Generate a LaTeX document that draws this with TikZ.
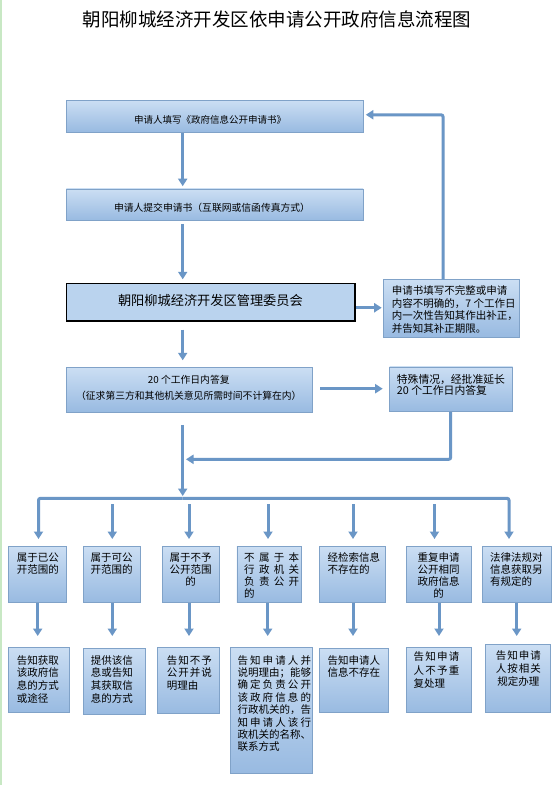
\documentclass[tikz,border=0pt]{standalone}
\usepackage{fontspec}
\setmainfont{Noto Sans CJK SC}
\usetikzlibrary{arrows.meta}
\definecolor{bxtop}{RGB}{203,222,243}
\definecolor{bxbot}{RGB}{152,186,225}
\definecolor{bxborder}{RGB}{128,162,200}
\definecolor{bxflat}{RGB}{186,211,238}
\definecolor{arrc}{RGB}{106,150,198}
\definecolor{edgegreen}{RGB}{200,232,196}
\newcommand\mkbox[6][bx]{\node[#1, minimum width={(#5-#3)*1pt}, minimum height={(#6-#4)*1pt}] (#2) at (#3,#4) {};}
\newcommand\jl[2]{\makebox[#1pt][s]{#2}}
\begin{document}
\begin{tikzpicture}[x=1pt,y=-1pt,
  bx/.style={draw=bxborder, line width=0.8pt, top color=bxtop, bottom color=bxbot, inner sep=0pt, anchor=north west},
  hbx/.style={draw=black, line width=1pt, fill=bxflat, inner sep=0pt, anchor=north west},
  arr/.style={draw=arrc, line width=3pt, -{Triangle[width=9pt,length=7.5pt]}, rounded corners=2pt},
  ctext/.style={inner sep=0pt},
  tx/.style={inner sep=0pt, anchor=north west, align=left, font=\fontsize{10.5}{12}\selectfont},
  btx/.style={tx, font=\fontsize{10.5}{12.7}\selectfont},
  ttl/.style={inner sep=0pt, font=\fontsize{18.5}{21}\selectfont}]
\path[use as bounding box, fill=white] (0,0) rectangle (554,785);
\draw[edgegreen, line width=1.6pt] (0.8,0) -- (0.8,785);

% main boxes
\mkbox{box1}{66}{100}{362.7}{131.7}
\mkbox{box2}{66}{188.5}{362.7}{220}
\mkbox[hbx]{box3}{66}{283.3}{354}{320}
\draw[black, line width=1.8pt] (box3.south west) -- (box3.south east) -- (box3.north east);
\mkbox{box4}{383.3}{279.3}{519.3}{336.5}
\mkbox{box5}{66}{367.3}{311.7}{411.7}
\mkbox{box6}{389.3}{366.5}{512.3}{411}

% top row
\mkbox{t1}{8}{546}{66}{602}
\mkbox{t2}{83}{546}{140}{602}
\mkbox{t3}{162}{546}{219}{602}
\mkbox{t4}{236.5}{546}{300.7}{602}
\mkbox{t5}{319}{546}{385}{602}
\mkbox{t6}{406.3}{546}{471.3}{602}
\mkbox{t7}{482.3}{546}{550.7}{602}

% bottom row
\mkbox{b1}{8.3}{646.7}{69.3}{712.3}
\mkbox{b2}{82.7}{648.3}{145}{714.3}
\mkbox{b3}{157.3}{646.7}{219.3}{713.3}
\mkbox{b4}{230}{647.3}{312}{773.3}
\mkbox{b5}{319}{648.3}{388}{712.3}
\mkbox{b6}{406.3}{646.7}{471.3}{712.3}
\mkbox{b7}{485}{644.3}{550}{712.3}

% helper coordinates
\coordinate (mx) at (182.7,0);
\coordinate (fx) at (443,0);
\coordinate (jx) at (450.7,0);
\coordinate (jn) at (182.7,459.3);
\coordinate (br) at (182.7,498.3);
\coordinate (u1) at (38.5,0);
\coordinate (u2) at (112.3,0);
\coordinate (u3) at (189,0);
\coordinate (u4) at (268,0);
\coordinate (u5) at (353,0);
\coordinate (u6) at (434.5,0);
\coordinate (u7) at (509,0);
\coordinate (d1) at (37.7,0);
\coordinate (d2) at (112.3,0);
\coordinate (d3) at (189,0);
\coordinate (d4) at (267.7,0);
\coordinate (d5) at (353,0);
\coordinate (d6) at (439,0);
\coordinate (d7) at (516.7,0);

% connectors
\draw[arr, shorten >=2.3pt] (box1.south -| mx) -- (box2.north -| mx);
\draw[arr, shorten <=3pt, shorten >=4pt] (box2.south -| mx) -- (box3.north -| mx);
\draw[arr, shorten <=8.5pt, shorten >=7pt] (box3.south -| mx) -- (box5.north -| mx);
\draw[arr, shorten <=1pt, shorten >=1.6pt] ([yshift=-5.6pt]box3.east) -- ([yshift=-5.6pt]box3.east -| box4.west);
\draw[arr, shorten >=2.3pt] (box4.north -| fx) |- ([yshift=1.5pt]box1.east);
\draw[arr, shorten <=7.6pt, shorten >=6.6pt] ([yshift=1.2pt]box5.east) -- ([yshift=1.2pt]box5.east -| box6.west);
\draw[arr, shorten >=3.3pt] (box6.south -| jx) |- (jn);
\draw[arr, shorten <=12.3pt, shorten >=2.3pt] (box5.south -| mx) -- (br);
\draw[arr, shorten >=7pt] (br) -| (t1.north -| u1);
\draw[arr, shorten >=7pt] (br) -| (t7.north -| u7);
\foreach \k in {2,...,6} \draw[arr, shorten <=5.7pt, shorten >=7pt] (br -| u\k) -- (t\k.north -| u\k);
\draw[arr, shorten >=10.7pt] (t1.south -| d1) -- (b1.north -| d1);
\draw[arr, shorten >=12.3pt] (t2.south -| d2) -- (b2.north -| d2);
\draw[arr, shorten >=10.7pt] (t3.south -| d3) -- (b3.north -| d3);
\draw[arr, shorten >=11.3pt] (t4.south -| d4) -- (b4.north -| d4);
\draw[arr, shorten >=12.3pt] (t5.south -| d5) -- (b5.north -| d5);
\draw[arr, shorten >=10.7pt] (t6.south -| d6) -- (b6.north -| d6);
\draw[arr, shorten >=8.3pt] (t7.south -| d7) -- (b7.north -| d7);

% texts
\node[ttl] (title) at (277,19) {朝阳柳城经济开发区依申请公开政府信息流程图};
\node[ctext, font=\fontsize{9.5}{11}\selectfont] (box1t) at (210,120) {申请人填写《政府信息公开申请书》};
\node[ctext, font=\fontsize{9.8}{11}\selectfont] (box2t) at (212,208) {申请人提交申请书（互联网或信函传真方式）};
\node[ctext, font=\fontsize{13.2}{15}\selectfont] (box3t) at (210.4,300.5) {朝阳柳城经济开发区管理委员会};
\node[ctext, align=center, font=\fontsize{9.8}{15.7}\selectfont] (box5t) at (188.8,388) {20 个工作日内答复\\（征求第三方和其他机关意见所需时间不计算在内）};
\node[tx, font=\fontsize{10.5}{12.4}\selectfont] (box4t) at (391.7,285.8) {申请书填写不完整或申请\\内容不明确的，7 个工作日\\内一次性告知其作出补正，\\并告知其补正期限。};
\node[tx, font=\fontsize{10.8}{11.7}\selectfont] (box6t) at (396.7,373.9) {特殊情况，经批准延长\\20 个工作日内答复};

\node[tx] (t1t) at (16.7,552.6) {属于已公\\开范围的};
\node[tx, align=center, anchor=north] (t2t) at (111.5,552.6) {属于可公\\开范围的};
\node[tx, align=center, anchor=north] (t3t) at (190.5,552.6) {属于不予\\公开范围\\的};
\node[tx] (t4t) at (244,552.6) {\jl{55}{不\hfil 属\hfil 于\hfil 本}\\\jl{55}{行\hfil 政\hfil 机\hfil 关}\\\jl{55}{负\hfil 责\hfil 公\hfil 开}\\的};
\node[tx] (t5t) at (327.3,552.6) {经检索信息\\不存在的};
\node[tx, align=center, anchor=north] (t6t) at (438.7,552.6) {重复申请\\公开相同\\政府信息\\的};
\node[tx] (t7t) at (490,552.6) {法律法规对\\信息获取另\\有规定的};

\node[btx] (b1t) at (16.7,655.1) {告知获取\\该政府信\\息的方式\\或途径};
\node[btx] (b2t) at (90.7,655.1) {提供该信\\息或告知\\其获取信\\息的方式};
\node[btx] (b3t) at (166.7,655.1) {\jl{45}{告\hfil 知\hfil 不\hfil 予}\\\jl{45}{公\hfil 开\hfil 并\hfil 说}\\明理由};
\node[btx, font=\fontsize{10.5}{12.4}\selectfont] (b4t) at (237.3,655.1) {\jl{73.5}{告\hfil 知\hfil 申\hfil 请\hfil 人\hfil 并}\\说明理由；能够\\\jl{73.5}{确\hfil 定\hfil 负\hfil 责\hfil 公\hfil 开}\\\jl{73.5}{该\hfil 政\hfil 府\hfil 信\hfil 息\hfil 的}\\行政机关的，告\\\jl{73.5}{知\hfil 申\hfil 请\hfil 人\hfil 该\hfil 行}\\政机关的名称、\\联系方式};
\node[btx] (b5t) at (327.3,655.1) {告知申请人\\信息不存在};
\node[btx, font=\fontsize{10.5}{13.3}\selectfont] (b6t) at (413.3,651.8) {\jl{46}{告\hfil 知\hfil 申\hfil 请}\\\jl{46}{人\hfil 不\hfil 予\hfil 重}\\复处理};
\node[btx, font=\fontsize{10.5}{13}\selectfont] (b7t) at (495.7,650.8) {\jl{45}{告\hfil 知\hfil 申\hfil 请}\\\jl{45}{人\hfil 按\hfil 相\hfil 关}\\\makebox[45pt]{规定办理}};
\end{tikzpicture}
\end{document}
